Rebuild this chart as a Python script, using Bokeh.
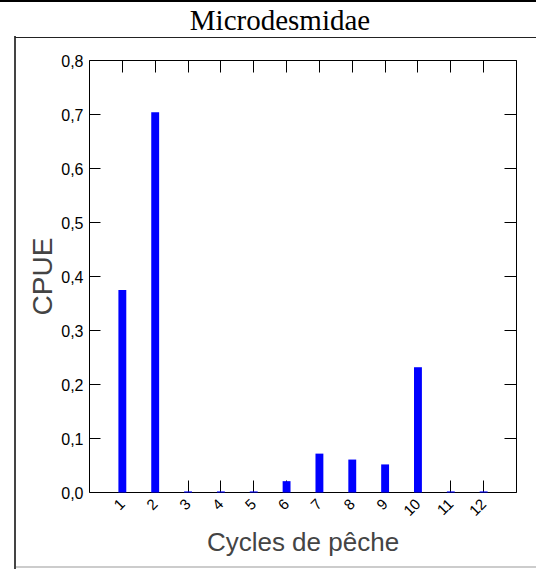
import math
from bokeh.plotting import figure
from bokeh.layouts import column
from bokeh.models import (LinearAxis, FixedTicker, CustomJSTickFormatter,
                          ColumnDataSource, Range1d, Div)
from bokeh.embed import file_html
from bokeh.resources import INLINE

# Catch per unit effort by fishing cycle
cycles = [1, 2, 3, 4, 5, 6, 7, 8, 9, 10, 11, 12]
cycle_labels = ["1", "2", "3", "4", "5", "6", "7", "8", "9", "10", "11", "12"]
cpue = [0.375, 0.704, 0.002, 0.002, 0.002, 0.021, 0.072, 0.061, 0.052, 0.232, 0.002, 0.002]
y_ticks = [0.0, 0.1, 0.2, 0.3, 0.4, 0.5, 0.6, 0.7, 0.8]

title_text = "Microdesmidae"
x_title = "Cycles de pêche"
y_title = "CPUE"

SANS = "Liberation Sans"
SERIF = "Liberation Serif"

PAGE_W, PAGE_H, HEAD_H = 536, 569, 37

# page frame lines, painted as CSS backgrounds behind the transparent chart borders
frame_css = {
    "background-color": "white",
    "background-image": ("linear-gradient(#000,#000), linear-gradient(#222,#222), "
                         "linear-gradient(#444,#444), linear-gradient(#ccc,#ccc)"),
    "background-size": "536px 2px, 521px 1px, 2px 533px, 521px 2px",
    "background-position": "0px 0px, 15px 37px, 14px 36px, 15px 566px",
    "background-repeat": "no-repeat",
}

header = Div(
    text=(f'<div style="width:560px;height:{HEAD_H}px;text-align:center;'
          f'font-family:\'{SERIF}\';font-size:29px;line-height:40px;color:black;">'
          f'{title_text}</div>'),
    width=PAGE_W, height=HEAD_H, margin=0)

p = figure(width=PAGE_W, height=PAGE_H - HEAD_H, output_backend="svg", toolbar_location=None,
           x_range=Range1d(0, 13), y_range=Range1d(0, 0.8),
           min_border_left=89, min_border_right=20, min_border_top=60 - HEAD_H,
           min_border_bottom=77, x_axis_location=None, y_axis_location=None, margin=0)
p.outline_line_color = None
p.xgrid.visible = False
p.ygrid.visible = False
p.background_fill_color = "white"
p.border_fill_color = None

src = ColumnDataSource(dict(x=cycles, y=cpue))
bars = p.vbar(x="x", top="y", width=0.24, bottom=0, source=src,
              fill_color="#0000ff", line_color=None)
bars.level = "annotation"

x_ticker = FixedTicker(ticks=cycles)
y_ticker = FixedTicker(ticks=y_ticks)
y_fmt = CustomJSTickFormatter(code="return tick.toFixed(1).replace('.', ',');")
x_fmt = CustomJSTickFormatter(args=dict(labels=cycle_labels),
                              code="return labels[Math.round(tick) - 1] || '';")


def style_axis(ax, show_labels):
    ax.axis_line_color = "black"
    ax.axis_line_width = 1
    ax.major_tick_line_color = "black"
    ax.major_tick_line_width = 1
    ax.major_tick_in = 12
    ax.major_tick_out = 0
    ax.minor_tick_line_color = None
    ax.major_label_text_font = SANS
    ax.major_label_text_font_size = "16px"
    ax.major_label_text_color = "black"
    if not show_labels:
        ax.major_label_text_alpha = 0
        ax.major_label_text_font_size = "1px"
        ax.major_label_standoff = 0


bottom = LinearAxis(ticker=x_ticker, formatter=x_fmt, axis_label=x_title)
style_axis(bottom, True)
bottom.major_label_text_font_size = "15px"
bottom.major_label_orientation = math.pi / 4
bottom.major_label_standoff = 9
bottom.axis_label_text_font = SANS
bottom.axis_label_text_font_style = "normal"
bottom.axis_label_text_font_size = "26px"
bottom.axis_label_standoff = 4
p.add_layout(bottom, "below")

left = LinearAxis(ticker=y_ticker, formatter=y_fmt, axis_label=y_title)
style_axis(left, True)
left.major_tick_in = 11
left.major_label_standoff = 6
left.axis_label_text_font = SANS
left.axis_label_text_font_style = "normal"
left.axis_label_text_font_size = "28px"
left.axis_label_standoff = 0
p.add_layout(left, "left")

top = LinearAxis(ticker=x_ticker, formatter=x_fmt)
style_axis(top, False)
p.add_layout(top, "above")

right = LinearAxis(ticker=y_ticker, formatter=y_fmt)
style_axis(right, False)
p.add_layout(right, "right")

page = column(header, p, width=PAGE_W, height=PAGE_H, spacing=0, margin=0, styles=frame_css)

open("out.html", "w").write(file_html(page, INLINE))
